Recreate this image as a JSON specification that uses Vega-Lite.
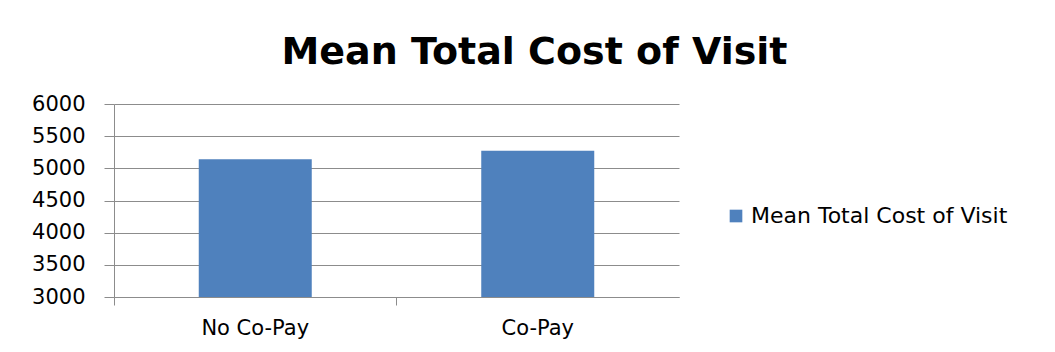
{
  "$schema": "https://vega.github.io/schema/vega-lite/v6.json",
  "autosize": {"type": "none"},
  "width": 565,
  "height": 193,
  "padding": {"left": 114, "top": 104, "right": 376, "bottom": 55},
  "background": "white",
  "title": {
    "text": "Mean Total Cost of Visit",
    "font": "DejaVu Sans",
    "fontSize": 38,
    "fontWeight": "bold",
    "color": "#000000",
    "anchor": "middle",
    "dx": 138,
    "offset": 21
  },
  "data": {
    "values": [
      {"group": "No Co-Pay", "cost": 5140, "series": "Mean Total Cost of Visit"},
      {"group": "Co-Pay", "cost": 5275, "series": "Mean Total Cost of Visit"}
    ]
  },
  "mark": {"type": "bar", "size": 113, "clip": true},
  "encoding": {
    "x": {
      "field": "group",
      "type": "nominal",
      "sort": ["No Co-Pay", "Co-Pay"],
      "scale": {"paddingInner": 0, "paddingOuter": 0},
      "axis": {
        "title": null,
        "labelAngle": 0,
        "labelFont": "DejaVu Sans",
        "labelFontSize": 21,
        "labelColor": "#000000",
        "labelPadding": 12,
        "domainColor": "#8c8c8c",
        "tickColor": "#8c8c8c",
        "tickSize": 8,
        "bandPosition": 0,
        "grid": false
      }
    },
    "y": {
      "field": "cost",
      "type": "quantitative",
      "scale": {"domain": [3000, 6000], "nice": false, "zero": false},
      "axis": {
        "title": null,
        "format": "d",
        "values": [3000, 3500, 4000, 4500, 5000, 5500, 6000],
        "labelFont": "DejaVu Sans",
        "labelFontSize": 21,
        "labelColor": "#000000",
        "labelPadding": 19,
        "domainColor": "#8c8c8c",
        "tickColor": "#8c8c8c",
        "tickSize": 10,
        "gridColor": "#8c8c8c",
        "grid": true
      }
    },
    "color": {
      "field": "series",
      "type": "nominal",
      "scale": {"range": ["#4f81bd"]},
      "legend": {
        "title": null,
        "orient": "none",
        "legendX": 611,
        "legendY": 101,
        "symbolType": "square",
        "symbolSize": 160,
        "labelFont": "DejaVu Sans",
        "labelFontSize": 22,
        "labelColor": "#000000",
        "labelLimit": 400
      }
    }
  },
  "config": {
    "view": {"stroke": null}
  }
}
